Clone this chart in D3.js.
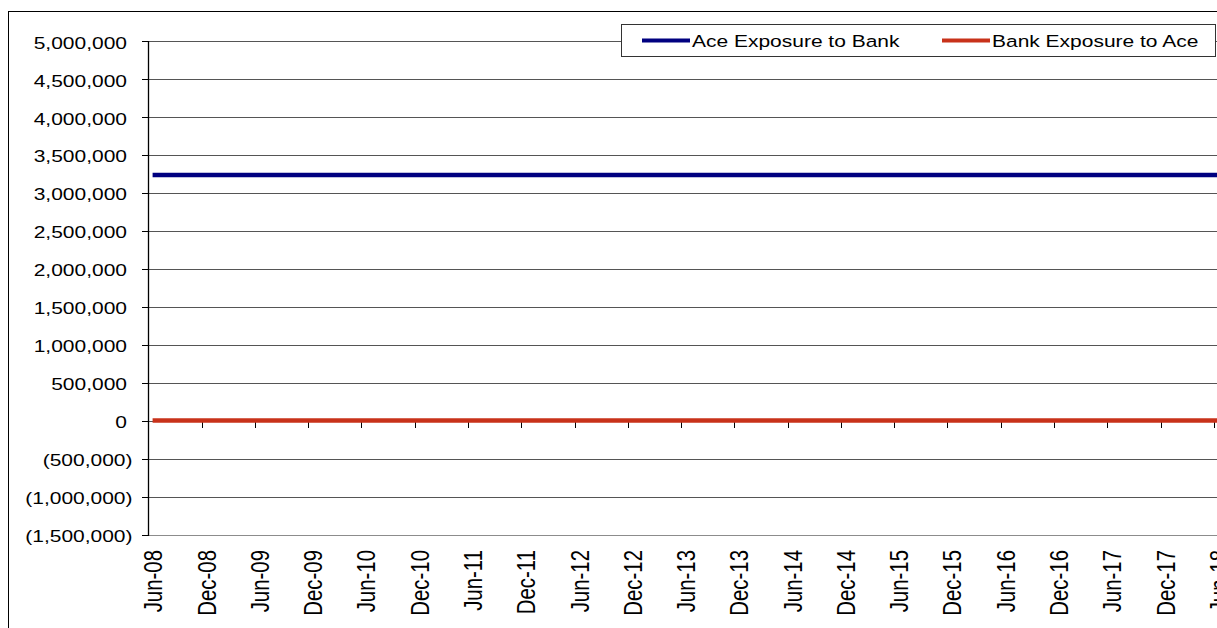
<!DOCTYPE html>
<html>
<head>
<meta charset="utf-8">
<script src="https://cdn.jsdelivr.net/npm/d3@7"></script>
<style>
  html, body { margin: 0; padding: 0; background: #fff; overflow: hidden; }
  svg { display: block; }
  text { font-family: "Liberation Sans", Arial, sans-serif; fill: #000; }
</style>
</head>
<body>
<svg id="chart" width="1217" height="628"></svg>
<script>
// Quarter-end reporting dates
const quarters = [
  "Jun-08","Sep-08","Dec-08","Mar-09","Jun-09","Sep-09","Dec-09","Mar-10",
  "Jun-10","Sep-10","Dec-10","Mar-11","Jun-11","Sep-11","Dec-11","Mar-12",
  "Jun-12","Sep-12","Dec-12","Mar-13","Jun-13","Sep-13","Dec-13","Mar-14",
  "Jun-14","Sep-14","Dec-14","Mar-15","Jun-15","Sep-15","Dec-15","Mar-16",
  "Jun-16","Sep-16","Dec-16","Mar-17","Jun-17","Sep-17","Dec-17","Mar-18",
  "Jun-18"
];

// Exposure series (one value per quarter)
const aceExposureToBank = [
  3235000,3235000,3235000,3235000,3235000,3235000,3235000,3235000,
  3235000,3235000,3235000,3235000,3235000,3235000,3235000,3235000,
  3235000,3235000,3235000,3235000,3235000,3235000,3235000,3235000,
  3235000,3235000,3235000,3235000,3235000,3235000,3235000,3235000,
  3235000,3235000,3235000,3235000,3235000,3235000,3235000,3235000,
  3235000
];
const bankExposureToAce = [
  0,0,0,0,0,0,0,0,
  0,0,0,0,0,0,0,0,
  0,0,0,0,0,0,0,0,
  0,0,0,0,0,0,0,0,
  0,0,0,0,0,0,0,0,
  0
];

const seriesNames = ["Ace Exposure to Bank", "Bank Exposure to Ace"];
const seriesColors = ["#000080", "#c8321a"];

const yTicks = [-1500000,-1000000,-500000,0,500000,1000000,1500000,2000000,
                2500000,3000000,3500000,4000000,4500000,5000000];

// Every second quarter is labelled
const xLabelled = ["Jun-08","Dec-08","Jun-09","Dec-09","Jun-10","Dec-10","Jun-11","Dec-11",
  "Jun-12","Dec-12","Jun-13","Dec-13","Jun-14","Dec-14","Jun-15","Dec-15","Jun-16",
  "Dec-16","Jun-17","Dec-17","Jun-18"];

const svg = d3.select("#chart");
const SX = 1.22; // horizontal text stretch

const plot = { left: 148.4, top: 41, bottom: 534.5, right: 1230 };
const step = 26.636;          // one quarter
const pointShift = 4.2;       // data points sit slightly right of the tick marks

const y = d3.scaleLinear().domain([-1500000, 5000000]).range([plot.bottom, plot.top]);
const xIdx = d3.scaleLinear().domain([0, 1]).range([plot.left, plot.left + step]);
const xPoint = i => xIdx(i) + pointShift;
const xTick = i => xIdx(i);

const fmt = v => {
  const s = d3.format(",")(Math.abs(v));
  return v < 0 ? "(" + s + ")" : s;
};

// Outer chart frame
svg.append("rect")
  .attr("x", 8.5).attr("y", 11.5)
  .attr("width", 1300).attr("height", 700)
  .attr("fill", "#fff").attr("stroke", "#000").attr("stroke-width", 1);

// Horizontal gridlines
svg.append("g").selectAll("line").data(yTicks).join("line")
  .attr("x1", plot.left).attr("x2", plot.right)
  .attr("y1", d => Math.round(y(d)) + 0.5).attr("y2", d => Math.round(y(d)) + 0.5)
  .attr("stroke", d => d === -1500000 ? "#8c8c8c" : "#555")
  .attr("stroke-width", 1)
  .attr("shape-rendering", "crispEdges");

// Y axis line and ticks
svg.append("line")
  .attr("x1", Math.round(plot.left) + 0.5).attr("x2", Math.round(plot.left) + 0.5)
  .attr("y1", plot.top).attr("y2", Math.round(plot.bottom) + 1)
  .attr("stroke", "#000").attr("stroke-width", 1.3);

svg.append("g").selectAll("line").data(yTicks).join("line")
  .attr("x1", 141.5).attr("x2", plot.left)
  .attr("y1", d => Math.round(y(d)) + 0.5).attr("y2", d => Math.round(y(d)) + 0.5)
  .attr("stroke", "#000").attr("stroke-width", 1)
  .attr("shape-rendering", "crispEdges");

// Y labels (positive values keep room for the closing parenthesis)
svg.append("g").selectAll("text").data(yTicks).join("text")
  .attr("transform", d => `translate(${d < 0 ? 132.5 : 127}, ${y(d) + 7.6}) scale(${SX},1)`)
  .attr("text-anchor", "end")
  .attr("font-size", "17.2px")
  .text(d => fmt(d));

// X tick marks hanging from the zero line
const labelIdx = xLabelled.map(l => quarters.indexOf(l));
svg.append("g").selectAll("line").data(labelIdx.filter(i => i > 0)).join("line")
  .attr("x1", i => Math.round(xTick(i)) + 0.5).attr("x2", i => Math.round(xTick(i)) + 0.5)
  .attr("y1", y(0)).attr("y2", y(0) + 7)
  .attr("stroke", "#000").attr("stroke-width", 1)
  .attr("shape-rendering", "crispEdges");

// Series lines
const line = d3.line().x((d, i) => xPoint(i)).y(d => y(d));
[aceExposureToBank, bankExposureToAce].forEach((vals, k) => {
  svg.append("path")
    .datum(vals)
    .attr("d", line)
    .attr("fill", "none")
    .attr("stroke", seriesColors[k])
    .attr("stroke-width", 4.5);
});

// X labels, rotated
svg.append("g").selectAll("text").data(labelIdx).join("text")
  .attr("transform", i => `translate(${xTick(i) + 14}, 550) scale(${SX},1) rotate(-90)`)
  .attr("text-anchor", "end")
  .attr("font-size", "20.4px")
  .text(i => quarters[i]);

// Legend
const legend = svg.append("g");
legend.append("rect")
  .attr("x", 621.5).attr("y", 24.5).attr("width", 594).attr("height", 32)
  .attr("fill", "#fff").attr("stroke", "#333").attr("stroke-width", 1);
const legendItems = [
  { name: seriesNames[0], color: seriesColors[0], x0: 642, x1: 690, tx: 692 },
  { name: seriesNames[1], color: seriesColors[1], x0: 942, x1: 990, tx: 992 }
];
legendItems.forEach(it => {
  legend.append("line")
    .attr("x1", it.x0).attr("x2", it.x1).attr("y1", 40.5).attr("y2", 40.5)
    .attr("stroke", it.color).attr("stroke-width", 4);
  legend.append("text")
    .attr("transform", `translate(${it.tx}, 46.5) scale(${SX},1)`)
    .attr("font-size", "17.2px")
    .text(it.name);
});
</script>
</body>
</html>
